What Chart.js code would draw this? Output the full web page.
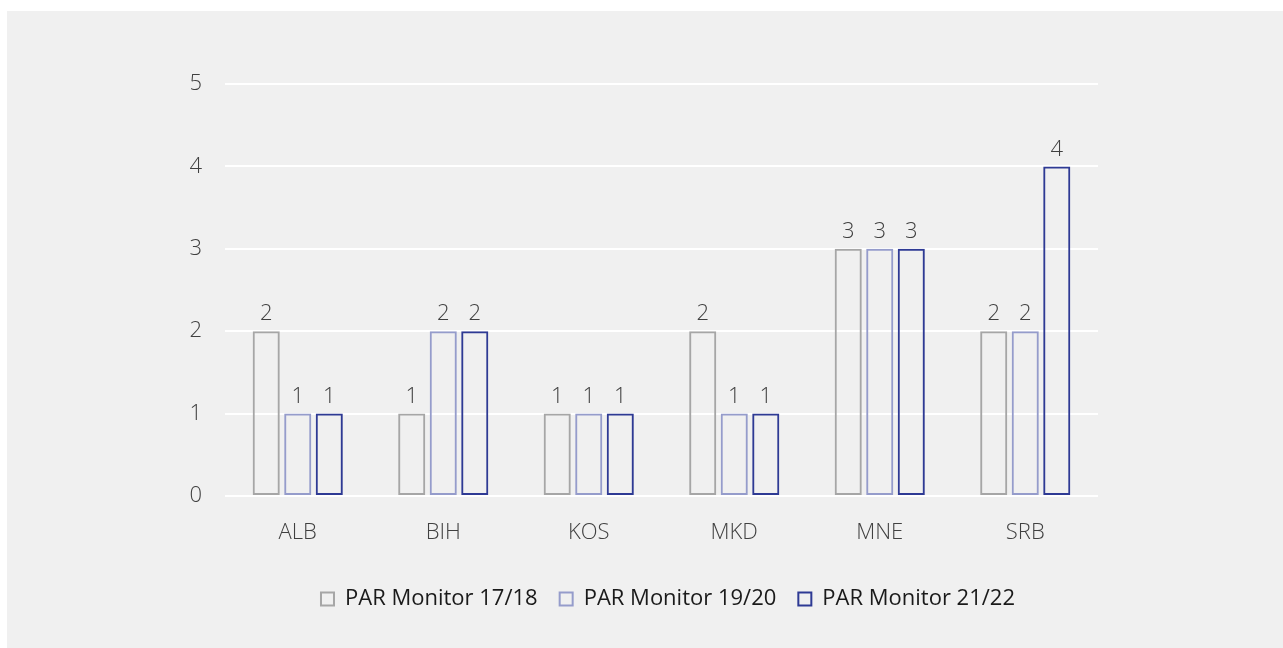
<!DOCTYPE html>
<html>
<head>
<meta charset="utf-8">
<script src="https://cdn.jsdelivr.net/npm/chart.js@4"></script>
<style>
  body { margin: 0; background: #ffffff; }
  #panel { position: absolute; left: 7px; top: 11px; width: 1276px; height: 637px; background: #f0f0f0; }
</style>
</head>
<body>
<div id="panel"><canvas id="barChart"></canvas></div>
<script>
// categories and series
var countries = ['ALB', 'BIH', 'KOS', 'MKD', 'MNE', 'SRB'];
var monitor1718 = [2, 1, 1, 2, 3, 2];
var monitor1920 = [1, 2, 1, 1, 3, 2];
var monitor2122 = [1, 2, 1, 1, 3, 4];
var yTicks = [0, 1, 2, 3, 4, 5];

var fontFamily = '"Open Sans", "Liberation Sans", sans-serif';

// draws the value over each bar
var valueLabels = {
    id: 'valueLabels',
    afterDatasetsDraw: function (chart) {
        var ctx = chart.ctx;
        ctx.save();
        ctx.font = '300 22px ' + fontFamily;
        ctx.fillStyle = '#404040';
        ctx.textAlign = 'center';
        ctx.textBaseline = 'middle';
        chart.data.datasets.forEach(function (ds, i) {
            chart.getDatasetMeta(i).data.forEach(function (bar, j) {
                ctx.fillText(ds.data[j], bar.x, bar.y - 17);
            });
        });
        ctx.restore();
    }
};

var ctxBar = document.getElementById('barChart').getContext('2d');
var barChart = new Chart(ctxBar, {
    type: 'bar',
    data: {
        labels: countries,
        datasets: [{
            label: 'PAR Monitor 17/18',
            data: monitor1718,
            backgroundColor: 'transparent',
            borderColor: '#a6a6a6',
            borderWidth: 2,
            borderSkipped: false
        }, {
            label: 'PAR Monitor 19/20',
            data: monitor1920,
            backgroundColor: 'transparent',
            borderColor: '#959ccb',
            borderWidth: 2,
            borderSkipped: false
        }, {
            label: 'PAR Monitor 21/22',
            data: monitor2122,
            backgroundColor: 'transparent',
            borderColor: '#2e3a94',
            borderWidth: 2,
            borderSkipped: false
        }]
    },
    options: {
        responsive: true,
        maintainAspectRatio: false,
        animation: false,
        categoryPercentage: 0.65,
        barPercentage: 0.86,
        layout: {
            padding: { top: 73, right: 0, bottom: 28, left: 46 }
        },
        plugins: {
            legend: {
                position: 'bottom',
                labels: {
                    boxWidth: 13,
                    boxHeight: 13,
                    padding: 22,
                    color: '#1a1a1a',
                    font: { family: fontFamily, size: 22 }
                }
            },
            tooltip: { enabled: false }
        },
        scales: {
            x: {
                grid: { display: false },
                border: { display: false },
                ticks: {
                    padding: 16,
                    color: '#404040',
                    font: { family: fontFamily, size: 22, weight: 300 }
                },
                afterFit: function (axis) { axis.height = 70; }
            },
            y: {
                min: 0,
                max: 5,
                afterBuildTicks: function (axis) {
                    axis.ticks = yTicks.map(function (v) { return { value: v }; });
                },
                grid: { color: '#ffffff', lineWidth: 2, drawTicks: false },
                border: { display: false },
                ticks: {
                    padding: 23,
                    color: '#404040',
                    font: { family: fontFamily, size: 22, weight: 300 }
                },
                afterFit: function (axis) { axis.width = 172; }
            },
            // empty space on the right side of the plot
            yRight: {
                position: 'right',
                grid: { display: false },
                border: { display: false },
                ticks: { display: false },
                afterFit: function (axis) { axis.width = 185; }
            }
        }
    },
    plugins: [valueLabels]
});
</script>
</body>
</html>
